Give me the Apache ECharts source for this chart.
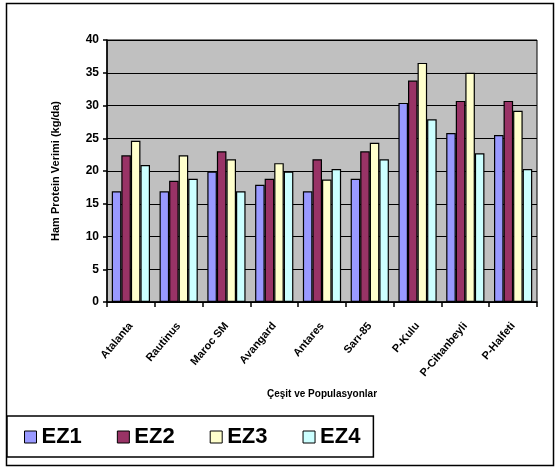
<!DOCTYPE html>
<html><head><meta charset="utf-8">
<script src="https://cdn.jsdelivr.net/npm/echarts@6/dist/echarts.min.js"></script>
<style>html,body{margin:0;padding:0;background:#fff}#c{width:556px;height:470px}</style>
</head><body><div id="c"></div>
<script>
const categories = ['Atalanta','Rautinus','Maroc SM','Avangard','Antares','Sarı-85','P-Kulu','P-Cihanbeyli','P-Halfeti'];
const seriesNames = ['EZ1','EZ2','EZ3','EZ4'];
const ez1 = [16.9, 16.9, 19.9, 17.9, 16.9, 18.8, 30.4, 25.8, 25.5];
const ez2 = [22.4, 18.5, 23.0, 18.8, 21.8, 23.0, 33.8, 30.7, 30.7];
const ez3 = [24.6, 22.4, 21.8, 21.2, 18.7, 24.3, 36.5, 35.0, 29.2];
const ez4 = [20.9, 18.8, 16.9, 19.9, 20.3, 21.8, 27.9, 22.7, 20.3];
const yTicks = [0,5,10,15,20,25,30,35,40];
const colors = ['#9999ff','#993366','#ffffcc','#ccffff'];
const seriesData = [ez1, ez2, ez3, ez4];

const chart = echarts.init(document.getElementById('c'));
const font = 'Arial, "Liberation Sans", sans-serif';
chart.setOption({
  animation: false,
  textStyle: {fontFamily: font},
  graphic: [{
    type: 'rect', shape: {x: 6.5, y: 3.5, width: 547, height: 462},
    style: {fill: 'none', stroke: '#000', lineWidth: 1.5}, z: -10
  }],
  grid: {left: 107, top: 40, right: 19, bottom: 168, show: true, backgroundColor: '#c0c0c0', borderColor: '#000', borderWidth: 1},
  legend: {
    data: seriesNames, left: 7, top: 416,
    padding: [10, 13, 9, 17], itemGap: 35,
    backgroundColor: '#fff', borderColor: '#000', borderWidth: 1.5,
    itemWidth: 12, itemHeight: 12, icon: 'rect',
    textStyle: {fontSize: 22, fontWeight: 'bold', color: '#000', fontFamily: font},
    itemStyle: {borderColor: '#000', borderWidth: 1}
  },
  xAxis: {
    type: 'category', data: categories,
    name: 'Çeşit ve Populasyonlar', nameLocation: 'middle', nameGap: 87,
    nameTextStyle: {fontSize: 10, fontWeight: 'bold', color: '#000'},
    axisLine: {lineStyle: {color: '#000', width: 1.5}},
    axisTick: {show: true, length: 5, lineStyle: {color: '#000', width: 1.5}},
    axisLabel: {rotate: 50, fontSize: 11, fontWeight: 'bold', color: '#000', margin: 22, interval: 0}
  },
  yAxis: {
    type: 'value', min: 0, max: 40, interval: 5,
    name: 'Ham Protein Verimi (kg/da)', nameLocation: 'middle', nameGap: 46,
    nameTextStyle: {fontSize: 11, fontWeight: 'bold', color: '#000'},
    axisLine: {show: true, lineStyle: {color: '#000', width: 1.5}},
    axisTick: {show: true, length: 4, lineStyle: {color: '#000', width: 1.5}},
    axisLabel: {fontSize: 12, fontWeight: 'bold', color: '#000', margin: 8,
      formatter: v => yTicks.includes(v) ? String(v) : ''},
    splitLine: {show: true, lineStyle: {color: '#000', width: 1.2}}
  },
  series: seriesNames.map((n, i) => ({
    name: n, type: 'bar', data: seriesData[i],
    barGap: '0%', barCategoryGap: '20%',
    itemStyle: {color: colors[i], borderColor: '#000', borderWidth: 1.2}
  }))
});
</script></body></html>
